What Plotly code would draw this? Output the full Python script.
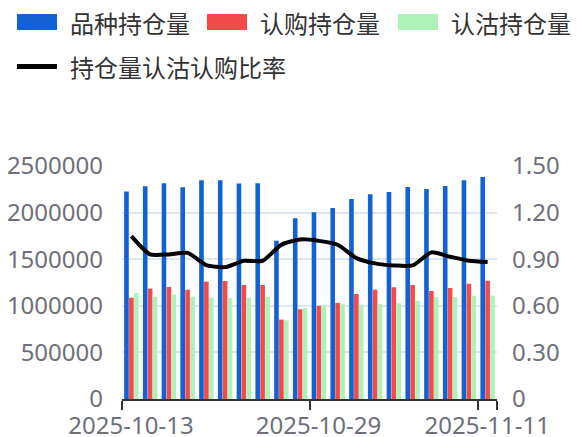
import plotly.graph_objects as go

# Trading dates (category axis, labelled only at a few positions)
dates = [
    "2025-10-13", "2025-10-14", "2025-10-15", "2025-10-16", "2025-10-17",
    "2025-10-20", "2025-10-21", "2025-10-22", "2025-10-23", "2025-10-24",
    "2025-10-29", "2025-10-30", "2025-10-31", "2025-11-03", "2025-11-04",
    "2025-11-05", "2025-11-06", "2025-11-07", "2025-11-10", "2025-11-11",
]
label_idx = [0, 10, 19]

total_oi = [2226000, 2283000, 2315000, 2272000, 2347000, 2347000, 2312000, 2315000, 1697000, 1940000,
            2004000, 2050000, 2147000, 2197000, 2222000, 2275000, 2254000, 2286000, 2347000, 2382000]
call_oi = [1087000, 1184000, 1202000, 1173000, 1259000, 1266000, 1223000, 1223000, 852000, 963000,
           999000, 1031000, 1127000, 1173000, 1199000, 1223000, 1159000, 1191000, 1237000, 1269000]
put_oi = [1138000, 1098000, 1120000, 1098000, 1087000, 1081000, 1087000, 1095000, 845000, 977000,
          1006000, 1017000, 1013000, 1020000, 1027000, 1052000, 1092000, 1095000, 1109000, 1109000]
pc_ratio = [1.049, 0.931, 0.931, 0.941, 0.862, 0.849, 0.890, 0.890, 0.993, 1.027,
            1.018, 0.993, 0.907, 0.873, 0.860, 0.860, 0.944, 0.916, 0.890, 0.882]

left_ticks = [0, 500000, 1000000, 1500000, 2000000, 2500000]
right_ticks = [0, 0.3, 0.6, 0.9, 1.2, 1.5]
right_ticktext = ["0", "0.30", "0.60", "0.90", "1.20", "1.50"]

names = ["品种持仓量", "认购持仓量", "认沽持仓量", "持仓量认沽认购比率"]
colors = ["#1262D4", "#F34B4B", "#AEF2BA", "#000000"]

W, H = 577, 437
ML, MR, MT, MB = 122, 80, 166, 38
PW, PH = W - ML - MR, H - MT - MB

x = list(range(len(dates)))

fig = go.Figure()
for vals, name, col in zip([total_oi, call_oi, put_oi], names[:3], colors[:3]):
    fig.add_trace(go.Bar(x=x, y=vals, name=name, marker=dict(color=col, line=dict(width=0)),
                         showlegend=False))
fig.add_trace(go.Scatter(x=x, y=pc_ratio, name=names[3], yaxis="y2", mode="lines",
                         line=dict(color=colors[3], width=4, shape="spline", smoothing=0.6),
                         showlegend=False))


def px_x(p):
    return (p - ML) / PW


def px_y(p):
    return (H - MB - p) / PH


# Legend drawn as swatches + text
shapes = []
annotations = []
row1 = [(17, 68), (207, 258), (398, 449)]
for (sx, tx), name, col in zip(row1, names[:3], colors[:3]):
    shapes.append(dict(type="rect", xref="paper", yref="paper",
                       x0=px_x(sx), x1=px_x(sx + 40), y0=px_y(30), y1=px_y(14),
                       fillcolor=col, line=dict(width=0), layer="above"))
    annotations.append(dict(text=name, xref="paper", yref="paper", x=px_x(tx), y=px_y(22),
                            xanchor="left", yanchor="middle", showarrow=False,
                            font=dict(family="Noto Sans CJK SC", size=24, color="#333333")))
shapes.append(dict(type="line", xref="paper", yref="paper",
                   x0=px_x(17), x1=px_x(57), y0=px_y(66.5), y1=px_y(66.5),
                   line=dict(color=colors[3], width=5), layer="above"))
annotations.append(dict(text=names[3], xref="paper", yref="paper", x=px_x(68), y=px_y(66.5),
                        xanchor="left", yanchor="middle", showarrow=False,
                        font=dict(family="Noto Sans CJK SC", size=24, color="#333333")))

tick_font = dict(family="Noto Sans", size=24, color="#6E7079")
n = len(dates)
fig.update_layout(
    width=W, height=H, autosize=False,
    margin=dict(l=ML, r=MR, t=MT, b=MB, pad=0),
    paper_bgcolor="white", plot_bgcolor="white",
    barmode="group", bargap=0.215, bargroupgap=0.06,
    shapes=shapes, annotations=annotations,
    xaxis=dict(
        range=[-0.5, n - 0.5],
        tickmode="array",
        tickvals=[i - 0.5 for i in label_idx] + [n - 0.5],
        ticktext=[dates[i] for i in label_idx] + [""],
        ticklabelshift=round(PW / n / 2),
        ticks="outside", ticklen=9, tickwidth=2, tickcolor="#333333",
        showline=True, linecolor="#333333", linewidth=2,
        showgrid=False, zeroline=False, automargin=False,
        tickfont=tick_font, ticklabelstandoff=-5,
    ),
    yaxis=dict(
        range=[0, 2500000], tickmode="array", tickvals=left_ticks,
        ticktext=[str(v) for v in left_ticks],
        showgrid=True, gridcolor="#E0E6F1", gridwidth=2,
        zeroline=False, showline=False, ticks="", automargin=False,
        tickfont=tick_font, ticklabelstandoff=18,
    ),
    yaxis2=dict(
        range=[0, 1.5], overlaying="y", side="right", tickmode="array",
        tickvals=right_ticks, ticktext=right_ticktext,
        showgrid=False, zeroline=False, showline=False, ticks="", automargin=False,
        tickfont=tick_font, ticklabelstandoff=14,
    ),
)

fig.write_html("out.html")
